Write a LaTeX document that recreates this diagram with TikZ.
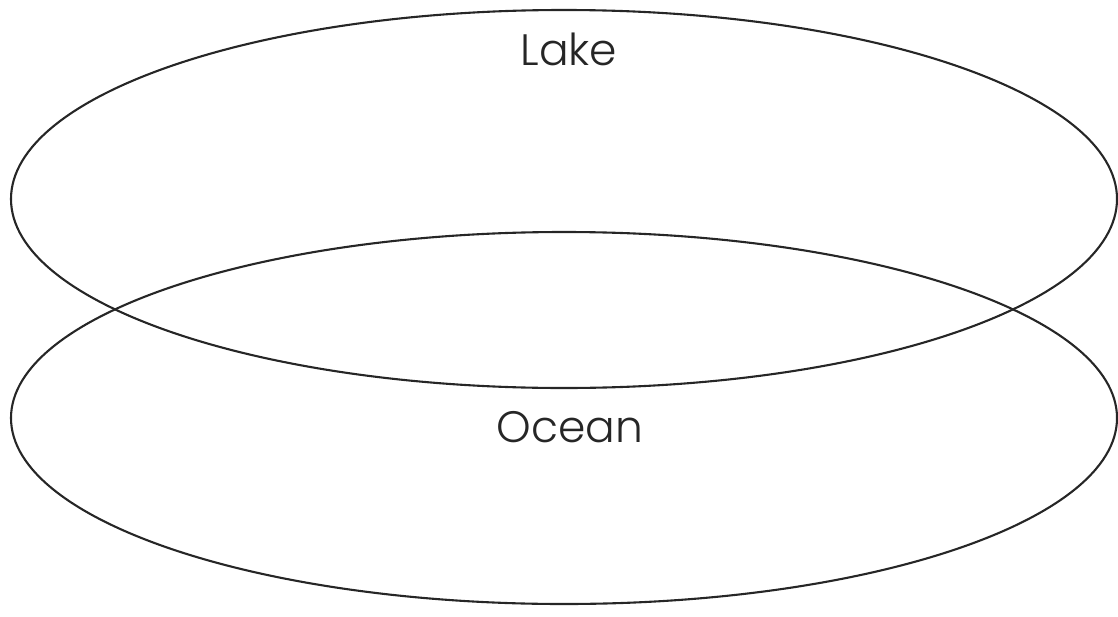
\documentclass[tikz,border=0pt]{standalone}
\usepackage{fontspec}
\setmainfont{Poppins Light}
\begin{document}
\begin{tikzpicture}[x=1pt,y=-1pt,
  ring/.style={draw=black!85,line width=2.1pt},
  label/.style={font=\fontsize{44}{44}\selectfont,text=black!85,inner sep=0pt,anchor=base}]
\useasboundingbox (0,0) rectangle (1118,616);
% the two overlapping water bodies
\draw[ring] (564,199) ellipse [x radius=553,y radius=189];
\draw[ring] (564,418) ellipse [x radius=553,y radius=186];
\node[label] (lake) at (569,65) {Lake};
\node[label] (ocean) at (570,442) {Ocean};
\end{tikzpicture}
\end{document}
